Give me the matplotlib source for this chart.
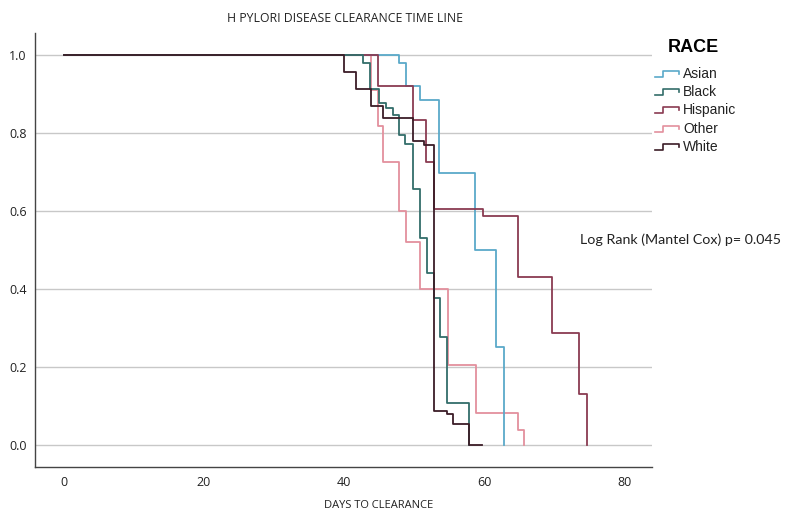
import numpy as np
import matplotlib.pyplot as plt
from matplotlib.lines import Line2D

# =========================
# Data
# =========================

GROUPS = ["Asian", "Black", "Hispanic", "Other", "White"]

ASIAN_T = [0, 47.9, 48.9, 50.8, 53.6, 58.7, 61.7, 62.8]
ASIAN_S = [1.0, 0.98, 0.919, 0.885, 0.698, 0.50, 0.25, 0.0]

BLACK_T = [0, 42.8, 43.8, 45.0, 46.0, 47.0, 47.9, 48.7, 49.8, 50.8, 51.8, 52.8, 53.7, 54.7, 57.8]
BLACK_S = [1.0, 0.979, 0.912, 0.876, 0.863, 0.847, 0.795, 0.772, 0.657, 0.531, 0.442, 0.376, 0.277, 0.107, 0.0]

HISPANIC_T = [0, 44.9, 49.9, 51.7, 52.8, 59.8, 64.8, 69.7, 73.6, 74.7]
HISPANIC_S = [1.0, 0.919, 0.832, 0.725, 0.605, 0.587, 0.431, 0.286, 0.13, 0.0]

OTHER_T = [0, 43.9, 44.9, 45.6, 47.9, 48.9, 50.9, 54.8, 58.9, 64.8, 65.7]
OTHER_S = [1.0, 0.91, 0.818, 0.725, 0.601, 0.521, 0.401, 0.205, 0.082, 0.039, 0.0]

WHITE_T = [0, 40.0, 41.7, 43.9, 45.6, 49.9, 51.5, 52.8, 54.7, 55.6, 57.8, 59.7]
WHITE_S = [1.0, 0.956, 0.912, 0.87, 0.838, 0.778, 0.77, 0.086, 0.079, 0.054, 0.0, 0.0]

COLORS = {
    "Asian": "#5aa9c9",
    "Black": "#336d6a",
    "Hispanic": "#8a3b52",
    "Other": "#e3909d",
    "White": "#3c1d27",
}

X_TICKS = [0, 20, 40, 60, 80]
Y_TICKS = [0.0, 0.2, 0.4, 0.6, 0.8, 1.0]

TITLE = "H PYLORI DISEASE CLEARANCE TIME LINE"
X_LABEL = "DAYS TO CLEARANCE"
LEGEND_TITLE = "RACE"
NOTE = "Log Rank (Mantel Cox) p= 0.045"


def main():
    curves = {
        "Asian": (ASIAN_T, ASIAN_S),
        "Black": (BLACK_T, BLACK_S),
        "Hispanic": (HISPANIC_T, HISPANIC_S),
        "Other": (OTHER_T, OTHER_S),
        "White": (WHITE_T, WHITE_S),
    }

    fig = plt.figure(figsize=(7.89, 5.14), dpi=100)
    ax = fig.add_axes([0.0444, 0.0909, 0.782, 0.845])

    # grid first so the curves sit on top
    for yv in Y_TICKS:
        ax.axhline(yv, color="#c8c8c8", linewidth=1.0, zorder=0)

    # draw order so the dark lines end up over the light ones
    for name in ["Other", "Asian", "Hispanic", "Black", "White"]:
        t, s = curves[name]
        ax.step(t, s, where="post", color=COLORS[name], linewidth=1.3, zorder=2)

    ax.set_xlim(-4.1, 84.0)
    ax.set_ylim(-0.057, 1.056)
    ax.set_xticks(X_TICKS)
    ax.set_yticks(Y_TICKS)
    ax.set_yticklabels([f"{v:.1f}" for v in Y_TICKS])
    ax.tick_params(length=0, labelsize=9, colors="#222222", pad=6)
    for lab in ax.get_xticklabels() + ax.get_yticklabels():
        lab.set_family("Open Sans")

    for side in ["top", "right"]:
        ax.spines[side].set_visible(False)
    for side in ["left", "bottom"]:
        ax.spines[side].set_color("#444444")
        ax.spines[side].set_linewidth(1.0)

    fig.text(345 / 789, 1 - 18 / 514, TITLE, ha="center", va="center",
             fontsize=8.8, family="Open Sans", color="#222222")
    fig.text(379 / 789, 1 - 505 / 514, X_LABEL, ha="center", va="center",
             fontsize=8, family="Open Sans", color="#222222")

    # legend, SPSS style with little step glyphs
    fig.text(668 / 789, 1 - 47 / 514, LEGEND_TITLE, ha="left", va="center",
             fontsize=13, fontweight="bold", family="Liberation Sans")
    for i, name in enumerate(GROUPS):
        py = 74 + i * 18.2
        gx = np.array([655, 663, 663, 679, 679]) / 789
        gy = 1 - np.array([py + 3, py + 3, py - 3, py - 3, py]) / 514
        fig.add_artist(Line2D(gx, gy, color=COLORS[name], linewidth=1.2,
                              transform=fig.transFigure))
        fig.text(683 / 789, 1 - py / 514, name, ha="left", va="center",
                 fontsize=10, family="Liberation Sans", color="#222222")

    fig.text(580 / 789, 1 - 240 / 514, NOTE, ha="left", va="center",
             fontsize=10.3, family="Lato", color="#222222")

    fig.savefig("out.png", dpi=100)
    plt.close(fig)


if __name__ == "__main__":
    main()
